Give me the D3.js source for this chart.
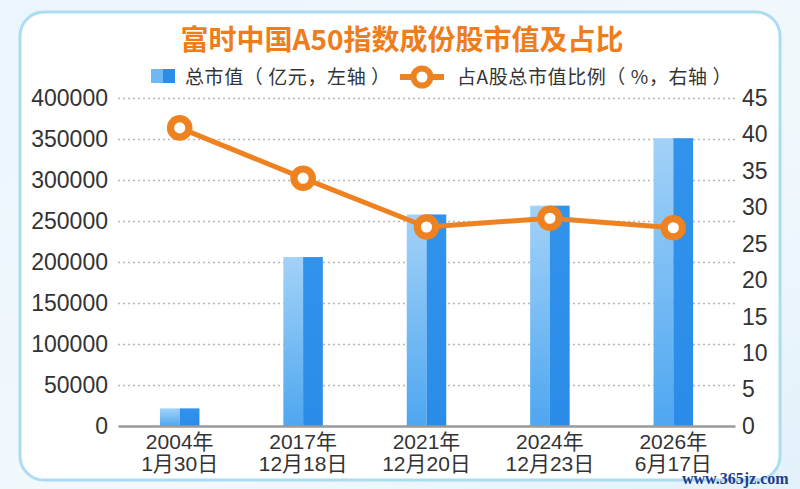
<!DOCTYPE html>
<html>
<head>
<meta charset="utf-8">
<script src="https://cdn.jsdelivr.net/npm/d3@7"></script>
<style>
  html, body { margin: 0; padding: 0; background: #eef7fc; }
  svg { display: block; }
</style>
</head>
<body>
<svg id="chart" width="800" height="489"></svg>
<script>
// ---- Data ----
const categories = ["2004年\n1月30日", "2017年\n12月18日", "2021年\n12月20日", "2024年\n12月23日", "2026年\n6月17日"];
const marketCap = [21500, 206000, 258000, 268700, 351000];      // 亿元, left axis
const sharePct = [40.9, 34.0, 27.3, 28.5, 27.2];                 // %, right axis
const leftTicks = [0, 50000, 100000, 150000, 200000, 250000, 300000, 350000, 400000];
const rightTicks = [0, 5, 10, 15, 20, 25, 30, 35, 40, 45];
const titleText = "富时中国A50指数成份股市值及占比";
const legendBar = "总市值（ 亿元，左轴 ）";
const legendLine = "占A股总市值比例（ %，右轴 ）";
const watermark = "www.365jz.com";

const svg = d3.select("#chart");
const W = 800, H = 489;
const plot = { left: 118, right: 735, top: 98, bottom: 426 };
const FONT = "'Liberation Sans', 'Noto Sans CJK SC', Arial, sans-serif";
const CJK = "'Noto Sans CJK SC', 'Liberation Sans', sans-serif";
const ORANGE = "#ef8220";

// ---- Defs ----
const defs = svg.append("defs");
const bg = defs.append("linearGradient").attr("id", "bgGrad").attr("x1", 0).attr("y1", 0).attr("x2", 1).attr("y2", 1);
bg.append("stop").attr("offset", "0%").attr("stop-color", "#eaf5fc");
bg.append("stop").attr("offset", "60%").attr("stop-color", "#f2f9fd");
bg.append("stop").attr("offset", "100%").attr("stop-color", "#e3f1fa");
const gl = defs.append("linearGradient").attr("id", "barLight").attr("x1", 0).attr("y1", 0).attr("x2", 0).attr("y2", 1);
gl.append("stop").attr("offset", "0%").attr("stop-color", "#a3d2f8");
gl.append("stop").attr("offset", "100%").attr("stop-color", "#4ea7f0");
const gd = defs.append("linearGradient").attr("id", "barDark").attr("x1", 0).attr("y1", 0).attr("x2", 0).attr("y2", 1);
gd.append("stop").attr("offset", "0%").attr("stop-color", "#3193ec");
gd.append("stop").attr("offset", "100%").attr("stop-color", "#2a8ce8");

// ---- Background & card ----
svg.append("rect").attr("width", W).attr("height", H).attr("fill", "url(#bgGrad)");
svg.append("rect").attr("x", 20).attr("y", 12).attr("width", 760).attr("height", 468)
  .attr("rx", 24).attr("fill", "#ffffff").attr("stroke", "#acdcf2").attr("stroke-width", 3);

// ---- Title ----
svg.append("text").attr("x", 402).attr("y", 38).attr("text-anchor", "middle")
  .attr("dominant-baseline", "central")
  .attr("font-family", CJK).attr("font-weight", "bold").attr("font-size", 28)
  .attr("fill", "#ee7d1c").text(titleText);

// ---- Legend ----
const lg = svg.append("g");
lg.append("rect").attr("x", 151).attr("y", 69).attr("width", 12).attr("height", 14).attr("fill", "#6fb8f3");
lg.append("rect").attr("x", 163).attr("y", 69).attr("width", 12).attr("height", 14).attr("fill", "#2b8de8");
lg.append("text").attr("x", 185).attr("y", 75).attr("dominant-baseline", "central")
  .attr("font-family", CJK).attr("font-size", 19).attr("fill", "#333")
  .attr("letter-spacing", 0.6).style("white-space", "pre").text(legendBar);
lg.append("line").attr("x1", 400).attr("x2", 444).attr("y1", 77).attr("y2", 77)
  .attr("stroke", ORANGE).attr("stroke-width", 6);
lg.append("circle").attr("cx", 422).attr("cy", 77).attr("r", 8.5)
  .attr("fill", "#fff").attr("stroke", ORANGE).attr("stroke-width", 6);
lg.append("text").attr("x", 457).attr("y", 75).attr("dominant-baseline", "central")
  .attr("font-family", CJK).attr("font-size", 19).attr("fill", "#333")
  .attr("letter-spacing", 0.6).style("white-space", "pre").text(legendLine);

// ---- Scales ----
const x = d3.scaleBand().domain(categories).range([plot.left, plot.right]).padding(0);
const yL = d3.scaleLinear().domain([0, 400000]).range([plot.bottom, plot.top]);
const yR = d3.scaleLinear().domain([0, 45]).range([plot.bottom, plot.top]);
const cx = d => x(d) + x.bandwidth() / 2;
const barW = x.bandwidth() * 0.32;

// ---- Gridlines ----
const grid = svg.append("g").attr("transform", `translate(${plot.left},0)`)
  .call(d3.axisLeft(yL).tickValues(leftTicks.filter(v => v > 0))
    .tickSize(-(plot.right - plot.left)).tickFormat(""));
grid.select(".domain").remove();
grid.selectAll(".tick line").attr("stroke", "#b8b8b8").attr("stroke-width", 1.4)
  .attr("stroke-dasharray", "2,3");

// ---- Left axis labels ----
const axL = svg.append("g").attr("transform", `translate(${plot.left},0)`)
  .call(d3.axisLeft(yL).tickValues(leftTicks).tickSize(0).tickPadding(10).tickFormat(d3.format("d")));
axL.select(".domain").remove();
axL.selectAll("text").attr("font-family", FONT).attr("font-size", 23).attr("fill", "#333");

// ---- Right axis labels ----
const axR = svg.append("g").attr("transform", `translate(${plot.right},0)`)
  .call(d3.axisRight(yR).tickValues(rightTicks).tickSize(0).tickPadding(7).tickFormat(d3.format("d")));
axR.select(".domain").remove();
axR.selectAll("text").attr("font-family", FONT).attr("font-size", 23).attr("fill", "#333");

// ---- Bars ----
const bars = svg.append("g").selectAll("g").data(categories).join("g");
bars.append("rect")
  .attr("x", (d) => cx(d) - barW / 2)
  .attr("y", (d, i) => yL(marketCap[i]))
  .attr("width", barW / 2)
  .attr("height", (d, i) => yL(0) - yL(marketCap[i]))
  .attr("fill", "url(#barLight)");
bars.append("rect")
  .attr("x", (d) => cx(d))
  .attr("y", (d, i) => yL(marketCap[i]))
  .attr("width", barW / 2)
  .attr("height", (d, i) => yL(0) - yL(marketCap[i]))
  .attr("fill", "url(#barDark)");

// ---- Bottom axis ----
const axB = svg.append("g").attr("transform", `translate(0,${plot.bottom})`)
  .call(d3.axisBottom(x).tickSize(0).tickFormat(""));
axB.select(".domain").attr("stroke", "#9a9a9a").attr("stroke-width", 2.5);
axB.selectAll(".tick").each(function(d) {
  const lines = d.split("\n");
  const t = d3.select(this).append("text")
    .attr("text-anchor", "middle").attr("font-family", FONT).attr("font-size", 21).attr("fill", "#333");
  t.append("tspan").attr("x", 0).attr("y", 23).text(lines[0]);
  t.append("tspan").attr("x", 0).attr("y", 45).text(lines[1]);
});

// ---- Line ----
const line = d3.line().x((d, i) => cx(categories[i])).y(d => yR(d));
svg.append("path").datum(sharePct).attr("d", line)
  .attr("fill", "none").attr("stroke", ORANGE).attr("stroke-width", 5).attr("stroke-linejoin", "round");
svg.append("g").selectAll("circle").data(sharePct).join("circle")
  .attr("cx", (d, i) => cx(categories[i])).attr("cy", d => yR(d)).attr("r", 9.2)
  .attr("fill", "#fff").attr("stroke", ORANGE).attr("stroke-width", 7.2);

// ---- Watermark ----
svg.append("text").attr("x", 682).attr("y", 484)
  .attr("font-family", "'Liberation Serif', 'DejaVu Serif', serif").attr("font-weight", "bold")
  .attr("font-size", 16).attr("fill", "#1c3d8e").text(watermark);
</script>
</body>
</html>
